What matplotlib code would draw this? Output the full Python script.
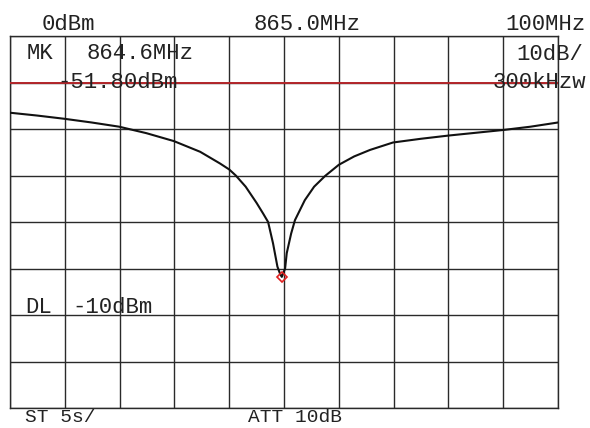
import matplotlib
matplotlib.use("Agg")
import matplotlib.pyplot as plt

# Frequency (MHz) and level (dBm)
freq = [815.0, 819.9, 824.9, 829.9, 834.9, 839.9, 844.9, 849.7, 853.3, 855.0, 856.2,
        858.0, 860.0, 861.2, 862.1, 863.0, 863.8, 864.3, 864.6, 865.2, 865.5, 866.3,
        867.0, 868.8, 870.5, 872.5, 875.0, 877.8, 880.7, 884.9, 890.0, 895.1, 900.1,
        905.1, 910.0, 915.0]
level = [-16.5, -17.1, -17.8, -18.6, -19.5, -20.9, -22.6, -24.9, -27.4, -28.7, -30.0,
         -32.4, -35.9, -38.2, -40.0, -44.6, -49.6, -51.2, -51.8, -50.0, -46.7, -42.5,
         -39.6, -35.3, -32.4, -30.1, -27.7, -25.9, -24.5, -22.9, -22.1, -21.4, -20.8,
         -20.2, -19.5, -18.6]

center_mhz = 865.0
span_mhz = 100.0
ref_level = 0.0
db_per_div = 10.0
display_line = -10.0
marker_freq = 864.6
marker_level = -51.80

fig = plt.figure(figsize=(5.9, 4.28), dpi=100)
W, H = 590.0, 428.0
ax = fig.add_axes([10 / W, 1 - 408 / H, 548 / W, 372 / H])

x0 = center_mhz - span_mhz / 2
x1 = center_mhz + span_mhz / 2
ax.set_xlim(x0, x1)
ax.set_ylim(ref_level - 8 * db_per_div, ref_level)
ax.set_xticks([x0 + i * span_mhz / 10 for i in range(11)])
ax.set_yticks([ref_level - i * db_per_div for i in range(9)])
ax.tick_params(length=0, labelbottom=False, labelleft=False)
ax.grid(True, color="#2a2a2a", linewidth=1.0)
for s in ax.spines.values():
    s.set_color("#2a2a2a")
    s.set_linewidth(1.0)

ax.axhline(display_line, color="#b3262a", linewidth=1.4, zorder=3)
ax.plot(freq, level, color="#111111", linewidth=1.5, zorder=4)
ax.plot([marker_freq], [marker_level], marker="D", markersize=5.5,
        markerfacecolor="none", markeredgecolor="#e02020", markeredgewidth=1.2, zorder=5)

font = dict(family="Liberation Mono", fontsize=16, color="#222222", va="baseline")


def txt(x, y, s, ha="left", size=16):
    f = dict(font)
    f["fontsize"] = size
    fig.text(x / W, 1 - y / H, s, ha=ha, **f)


txt(42, 30, "0dBm")
txt(307, 30, "865.0MHz", ha="center")
txt(586, 30, "100MHz", ha="right")
txt(27, 59, "MK")
txt(87, 59, "864.6MHz")
txt(583, 60, "10dB/", ha="right")
txt(57, 88, "-51.80dBm")
txt(586, 88, "300kHzw", ha="right")
txt(25, 313, "DL")
txt(72, 313, "-10dBm")
txt(25, 422, "ST 5s/", size=14)
txt(248, 422, "ATT 10dB", size=14)

fig.savefig("out.png", dpi=100, facecolor="white")
